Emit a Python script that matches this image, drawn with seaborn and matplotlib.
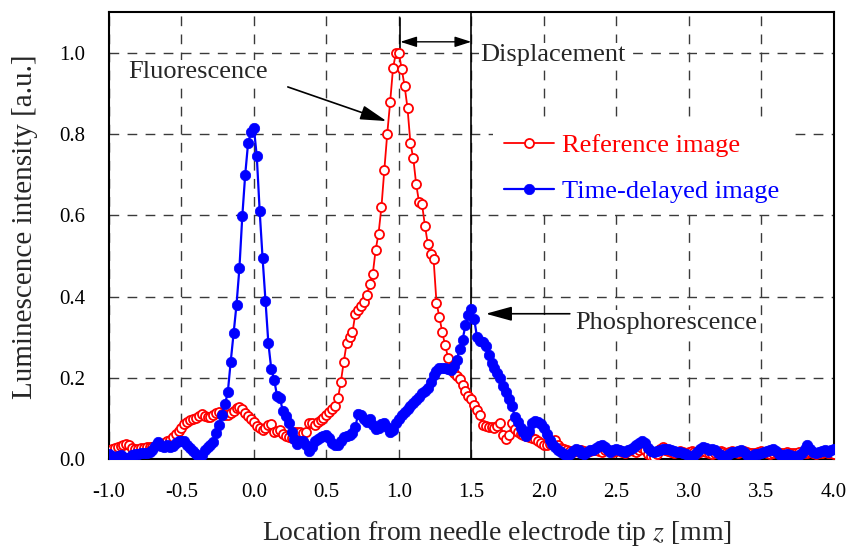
import numpy as np
import pandas as pd
import seaborn as sns
import matplotlib
matplotlib.use('Agg')
import matplotlib.pyplot as plt

# sampling grid of the line profiles (mm), every 0.02 mm from -1.0 to 4.0
z = np.round(np.linspace(-1.0, 4.0, 251), 2)

# reference image (fluorescence) intensity, one row per 0.2 mm
ref = [
    0.022, 0.025, 0.028, 0.030, 0.033, 0.036, 0.038, 0.034, 0.028, 0.025,
    0.026, 0.027, 0.028, 0.030, 0.030, 0.031, 0.033, 0.035, 0.037, 0.040,
    0.044, 0.048, 0.055, 0.062, 0.070, 0.078, 0.086, 0.092, 0.096, 0.098,
    0.101, 0.106, 0.112, 0.106, 0.104, 0.103, 0.108, 0.114, 0.117, 0.112,
    0.108, 0.110, 0.113, 0.119, 0.125, 0.129, 0.124, 0.113, 0.106, 0.099,
    0.092, 0.082, 0.078, 0.073, 0.078, 0.084, 0.086, 0.066, 0.070, 0.072,
    0.062, 0.058, 0.055, 0.052, 0.066, 0.067, 0.066, 0.064, 0.068, 0.090,
    0.088, 0.084, 0.092, 0.097, 0.102, 0.108, 0.117, 0.124, 0.132, 0.150,
    0.190, 0.240, 0.285, 0.300, 0.312, 0.358, 0.368, 0.376, 0.388, 0.405,
    0.430, 0.455, 0.515, 0.555, 0.620, 0.712, 0.800, 0.878, 0.962, 1.000,
    1.000, 0.960, 0.918, 0.864, 0.778, 0.740, 0.676, 0.632, 0.628, 0.575,
    0.530, 0.505, 0.492, 0.385, 0.350, 0.312, 0.280, 0.250, 0.225, 0.212,
    0.205, 0.198, 0.183, 0.168, 0.155, 0.148, 0.133, 0.122, 0.110, 0.084,
    0.082, 0.080, 0.080, 0.078, 0.082, 0.088, 0.060, 0.050, 0.059, 0.088,
    0.075, 0.068, 0.063, 0.060, 0.057, 0.055, 0.052, 0.050, 0.044, 0.039,
    0.036, 0.035, 0.038, 0.044, 0.047, 0.035, 0.028, 0.025, 0.022, 0.020,
    0.018, 0.020, 0.024, 0.022, 0.020, 0.018, 0.020, 0.022, 0.024, 0.020,
    0.018, 0.022, 0.024, 0.020, 0.018, 0.020, 0.022, 0.018, 0.016, 0.020,
    0.022, 0.020, 0.018, 0.024, 0.028, 0.022, 0.014, 0.008, 0.006, 0.012,
    0.026, 0.030, 0.024, 0.020, 0.018, 0.016, 0.018, 0.020, 0.018, 0.016,
    0.018, 0.020, 0.018, 0.016, 0.018, 0.020, 0.018, 0.016, 0.014, 0.016,
    0.018, 0.020, 0.018, 0.016, 0.018, 0.020, 0.018, 0.016, 0.018, 0.020,
    0.018, 0.016, 0.015, 0.016, 0.018, 0.020, 0.018, 0.016, 0.014, 0.016,
    0.018, 0.016, 0.015, 0.016, 0.018, 0.016, 0.015, 0.016, 0.018, 0.016,
    0.015, 0.016, 0.018, 0.016, 0.014, 0.015, 0.016, 0.018, 0.016, 0.015,
    0.014,
]

# time-delayed image (phosphorescence) intensity
delayed = [
    0.014, 0.008, 0.004, 0.008, 0.010, 0.006, 0.002, 0.004, 0.010, 0.012,
    0.014, 0.016, 0.015, 0.016, 0.018, 0.022, 0.032, 0.042, 0.032, 0.030,
    0.034, 0.030, 0.032, 0.040, 0.044, 0.046, 0.046, 0.036, 0.028, 0.020,
    0.012, 0.006, 0.010, 0.024, 0.030, 0.036, 0.042, 0.065, 0.085, 0.110,
    0.135, 0.165, 0.240, 0.310, 0.380, 0.470, 0.598, 0.700, 0.778, 0.805,
    0.815, 0.745, 0.610, 0.495, 0.390, 0.285, 0.222, 0.195, 0.156, 0.150,
    0.118, 0.106, 0.088, 0.068, 0.050, 0.038, 0.044, 0.046, 0.034, 0.020,
    0.030, 0.046, 0.050, 0.054, 0.057, 0.060, 0.052, 0.040, 0.034, 0.036,
    0.046, 0.056, 0.058, 0.060, 0.064, 0.080, 0.112, 0.108, 0.100, 0.092,
    0.098, 0.084, 0.074, 0.078, 0.086, 0.090, 0.080, 0.068, 0.072, 0.088,
    0.100, 0.108, 0.116, 0.124, 0.130, 0.138, 0.146, 0.154, 0.162, 0.168,
    0.176, 0.190, 0.208, 0.218, 0.224, 0.224, 0.224, 0.222, 0.220, 0.230,
    0.245, 0.272, 0.294, 0.330, 0.355, 0.370, 0.345, 0.300, 0.292, 0.288,
    0.278, 0.256, 0.236, 0.224, 0.212, 0.200, 0.180, 0.165, 0.148, 0.132,
    0.104, 0.092, 0.078, 0.068, 0.058, 0.070, 0.088, 0.095, 0.092, 0.086,
    0.078, 0.062, 0.048, 0.038, 0.030, 0.022, 0.018, 0.012, 0.010, 0.014,
    0.020, 0.026, 0.022, 0.016, 0.014, 0.018, 0.022, 0.024, 0.028, 0.032,
    0.035, 0.030, 0.022, 0.018, 0.022, 0.026, 0.024, 0.020, 0.018, 0.022,
    0.026, 0.030, 0.034, 0.040, 0.046, 0.040, 0.028, 0.020, 0.018, 0.020,
    0.024, 0.026, 0.026, 0.026, 0.024, 0.020, 0.018, 0.018, 0.016, 0.012,
    0.008, 0.006, 0.010, 0.018, 0.026, 0.030, 0.028, 0.024, 0.026, 0.024,
    0.016, 0.010, 0.006, 0.008, 0.014, 0.018, 0.018, 0.020, 0.022, 0.018,
    0.010, 0.006, 0.008, 0.012, 0.014, 0.016, 0.018, 0.020, 0.024, 0.026,
    0.020, 0.014, 0.010, 0.010, 0.012, 0.010, 0.008, 0.006, 0.010, 0.016,
    0.026, 0.034, 0.026, 0.018, 0.016, 0.018, 0.020, 0.022, 0.018, 0.022,
    0.026,
]

assert len(ref) == len(z) and len(delayed) == len(z)

df = pd.DataFrame({'z': z, 'ref': ref, 'delayed': delayed})

sns.set_style('white')
plt.rcParams['font.family'] = ['Liberation Serif', 'DejaVu Serif']
plt.rcParams['mathtext.fontset'] = 'stix'
plt.rcParams['axes.unicode_minus'] = False

fig, ax = plt.subplots(figsize=(8.48, 5.52), dpi=100)
fig.subplots_adjust(left=0.1285, right=0.983, top=0.978, bottom=0.168)

sns.lineplot(data=df, x='z', y='ref', ax=ax, color='red', linewidth=1.3,
             marker='o', markersize=6.5, markerfacecolor='white',
             markeredgecolor='red', markeredgewidth=1.3,
             label='Reference image', zorder=3)
sns.lineplot(data=df, x='z', y='delayed', ax=ax, color='blue', linewidth=1.6,
             marker='o', markersize=7.5, markerfacecolor='blue',
             markeredgecolor='blue', markeredgewidth=0.5,
             label='Time-delayed image', zorder=4)

ax.set_xlim(-1.0, 4.0)
ax.set_ylim(0, 1.1)
ax.set_xticks(np.arange(-1.0, 4.01, 0.5))
ax.set_yticks(np.arange(0, 1.01, 0.2))
ax.xaxis.set_major_formatter(matplotlib.ticker.FormatStrFormatter('%.1f'))
ax.yaxis.set_major_formatter(matplotlib.ticker.FormatStrFormatter('%.1f'))
ax.tick_params(length=0, labelsize=15, pad=17, colors='black')

ax.grid(True, color='#3a3a3a', linestyle=(0, (7, 6)), linewidth=1.0)
ax.set_axisbelow(True)
for s in ax.spines.values():
    s.set_color('black')
    s.set_linewidth(1.5)

ax.set_xlabel('Location from needle electrode tip $z$ [mm]', fontsize=20)
ax.set_ylabel('Luminescence intensity [a.u.]', fontsize=21)
ax.xaxis.set_label_coords(0.535, -0.134)
ax.yaxis.set_label_coords(-0.098, 0.52)

# displacement between the two peaks
ax.axvline(1.5, color='black', linewidth=1.2, zorder=2.5)
ax.plot([1.01, 1.01], [0.99, 1.085], color='black', linewidth=1.2, zorder=2.5)
ax.annotate('', xy=(1.01, 1.027), xytext=(1.5, 1.027),
            arrowprops=dict(arrowstyle='<|-|>,head_length=0.5,head_width=0.16',
                            color='black', lw=1.0, mutation_scale=20,
                            shrinkA=0, shrinkB=0))
box = dict(facecolor='white', edgecolor='none', pad=1)
ax.text(1.56, 0.995, 'Displacement', fontsize=19, va='center', ha='left', bbox=box)
ax.text(-0.87, 0.952, 'Fluorescence', fontsize=19, va='center', ha='left', bbox=box)
ax.annotate('', xy=(0.915, 0.832), xytext=(0.234, 0.916),
            arrowprops=dict(arrowstyle='-|>,head_length=0.8,head_width=0.22',
                            color='black', lw=1.2, mutation_scale=20,
                            shrinkA=0, shrinkB=0))
ax.text(2.22, 0.336, 'Phosphorescence', fontsize=19, va='center', ha='left', bbox=box)
ax.annotate('', xy=(1.60, 0.358), xytext=(2.18, 0.358),
            arrowprops=dict(arrowstyle='-|>,head_length=0.8,head_width=0.22',
                            color='black', lw=1.2, mutation_scale=20,
                            shrinkA=0, shrinkB=0))

ax.legend(loc='upper left', bbox_to_anchor=(0.53, 0.752), fontsize=19,
          frameon=True, facecolor='white', edgecolor='none', framealpha=1,
          handlelength=1.9, handletextpad=0.3, labelspacing=0.85,
          labelcolor='linecolor', borderaxespad=0)

fig.savefig('out.png', dpi=100)
